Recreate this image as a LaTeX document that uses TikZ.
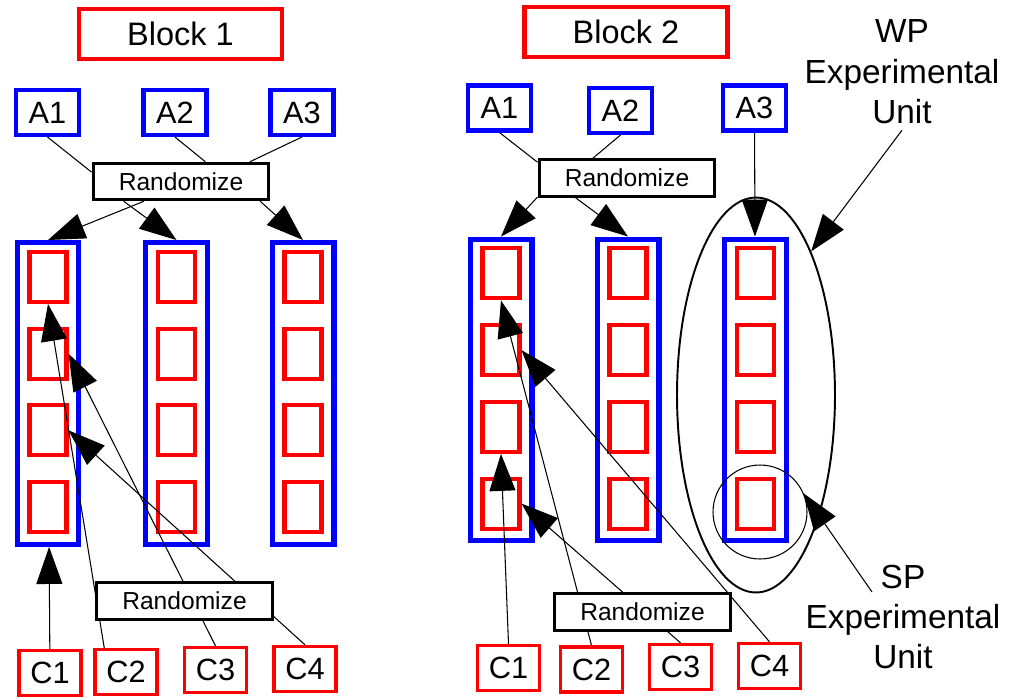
\documentclass[tikz,border=0pt]{standalone}
\usepackage{fontspec}
\setmainfont{Liberation Sans}
\usepackage{tikz}
\usetikzlibrary{arrows.meta,shapes.geometric}
\pgfdeclarelayer{edgelayer}
\pgfdeclarelayer{nodelayer}
\pgfsetlayers{nodelayer,edgelayer,main}

\begin{document}
\begin{tikzpicture}[x=0.02cm,y=-0.02cm,
  blockbox/.style={draw=red,line width=2.4pt,minimum width=4.06cm,minimum height=1cm,inner sep=0pt,font=\fontsize{18.5}{22}\selectfont},
  abox/.style={draw=blue,line width=2.3pt,minimum width=1.26cm,minimum height=0.9cm,inner sep=0pt,font=\fontsize{17.5}{20}\selectfont},
  cbox/.style={draw=red,line width=1.9pt,minimum width=1.24cm,minimum height=0.9cm,inner sep=0pt,font=\fontsize{17.5}{20}\selectfont},
  rbox/.style={draw,fill=white,line width=1.7pt,minimum width=3.52cm,minimum height=0.73cm,inner sep=0pt,font=\fontsize{14}{16}\selectfont},
  wpbox/.style={draw=blue,line width=2.85pt,minimum width=1.24cm,minimum height=6.04cm,inner sep=0pt},
  spbox/.style={draw=red,line width=2.3pt,minimum width=0.74cm,minimum height=1cm,inner sep=0pt},
  unittext/.style={align=center,font=\fontsize{19}{23}\selectfont},
  >={Triangle[length=0.74cm,width=0.52cm]}]
\useasboundingbox (0,0) rectangle (1015,698);

% whole plots and split plots
\begin{pgfonlayer}{nodelayer}
\foreach \n/\x/\y in {a/48/393.5,b/176.5/393.5,c/303/393.5,d/501/390,e/628/390,f/755.5/390}{
  \node[wpbox] (\n) at (\x,\y) {};
  \foreach \k in {1,...,4}
    \node[spbox] (\n\k) at (\x,{\y+(\k-2.5)*76.7-1.5}) {};
}
\end{pgfonlayer}

% block 1
\node[blockbox] (B1) at (180.5,34) {Block 1};
\node[abox] (A1) at (47.5,112.5) {A1};
\node[abox] (A2) at (175,112.5) {A2};
\node[abox] (A3) at (302,112.5) {A3};
\node[rbox] (R) at (181,181.5) {Randomize};
\node[rbox] (S) at (184.5,601) {Randomize};
\node[cbox] (C1) at (50,673) {C1};
\node[cbox] (C2) at (126,672) {C2};
\node[cbox] (C3) at (215.5,670) {C3};
\node[cbox] (C4) at (305,669) {C4};

% block 2
\node[blockbox] (B2) at (626,32) {Block 2};
\node[abox] (D1) at (499.5,108) {A1};
\node[abox] (D2) at (620.5,110.5) {A2};
\node[abox] (D3) at (754.5,108) {A3};
\node[rbox] (T) at (627,178) {Randomize};
\node[rbox] (U) at (642.5,612) {Randomize};
\node[cbox] (E1) at (508.5,668) {C1};
\node[cbox] (E2) at (591.5,669.5) {C2};
\node[cbox] (E3) at (680.5,667) {C3};
\node[cbox] (E4) at (769.5,666) {C4};

% experimental units
\node[ellipse,draw,line width=1.1pt,minimum width=3.16cm,minimum height=7.9cm,inner sep=0pt] (W) at (756,395) {};
\node[circle,draw,line width=0.6pt,minimum size=1.88cm,inner sep=0pt] (V) at (760,512) {};
\node[unittext] (WP) at (902,72) {WP\\Experimental\\Unit};
\node[unittext] (SP) at (903,617) {SP\\Experimental\\Unit};
\coordinate (sp) at (872,592);

\begin{pgfonlayer}{edgelayer}
\path[line width=0.6pt]
(A1.south) edge (R.174)
(A2.south) edge (R.39)
(A3.south) edge (R.16)
(D1.south) edge (T.170)
(D2.south) edge (T.150);
\path[->,line width=0.6pt]
(R.208) edge (a.north)
(R.199) edge (b.north)
(R.-14) edge (c.north)
(T.192) edge (d.north)
(T.201) edge (e.north)
(D3) edge (f)
(C1) edge (a)
(C2.132) edge (a1.south)
(C3.north) edge (a2.east)
(C4.north) edge (a3.east)
(E1.north) edge (d3.south)
(E2.north) edge (d1.south)
(E3.north) edge (d4.east)
(E4.north) edge (d2.east)
(WP.south) edge (W.69)
(sp) edge (V.23);
\end{pgfonlayer}
\end{tikzpicture}
\end{document}
